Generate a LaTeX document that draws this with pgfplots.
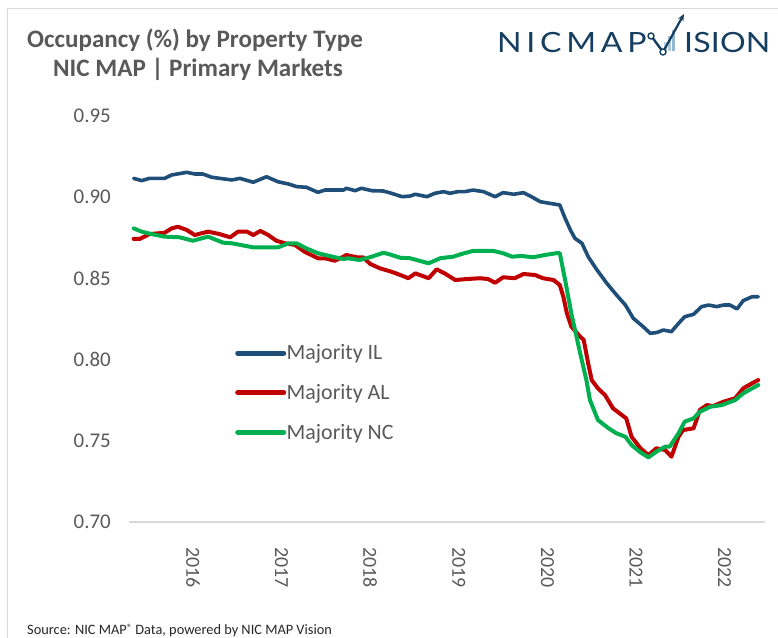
\documentclass[border=0pt]{standalone}
\usepackage{pgfplots}
\pgfplotsset{compat=1.18}
\usepackage{fontspec}
\setmainfont{Carlito}
\newfontfamily\logofont{Lato}
\usetikzlibrary{arrows.meta}
\definecolor{ilblue}{RGB}{31,78,121}
\definecolor{alred}{RGB}{192,0,0}
\definecolor{ncgreen}{RGB}{0,176,80}
\definecolor{txtgray}{RGB}{89,89,89}
\definecolor{navy}{RGB}{22,62,96}
\definecolor{bordergray}{RGB}{217,217,217}
\definecolor{barblue}{RGB}{150,185,210}
\begin{document}
\begin{tikzpicture}[x=1bp,y=1bp]
\useasboundingbox (0,0) rectangle (778,638);
\begin{scope}[shift={(0,638)}, y=-1bp]
\draw[bordergray, line width=1bp] (7,640) -- (7,9) -- (780,9);
% titles
\node[anchor=base, inner sep=0pt, font=\bfseries\fontsize{25.2}{29}\selectfont, text=txtgray] at (195,48) {Occupancy (\%) by Property Type};
\node[anchor=base, inner sep=0pt, font=\bfseries\fontsize{25.2}{29}\selectfont, text=txtgray] at (198,77) {NIC MAP | Primary Markets};
% logo
\node[anchor=base west, inner sep=0pt, text=navy, font=\logofont\fontsize{28}{28}\selectfont] at (497,53) {\scalebox{1.15}[1]{\makebox[130bp][l]{N\hfill I\hfill C\hfill M\hfill A\hfill P}}};
\node[anchor=base west, inner sep=0pt, text=navy, font=\logofont\fontsize{28}{28}\selectfont] at (684,53) {\scalebox{1.15}[1]{\makebox[75bp][l]{I\hfill S\hfill I\hfill O\hfill N}}};
\fill[barblue!60] (664,51) rectangle (666.5,42);
\fill[barblue!75] (668,51) rectangle (670.5,36);
\fill[barblue] (672,51) rectangle (674.5,30);
\draw[navy, line width=2.4bp] (652,37) -- (663,52);
\draw[navy, line width=2.2bp, -{Stealth[length=7bp,width=6bp]}] (663,52) -- (684,14);
\draw[navy, line width=1.4bp, fill=white] (651,36) circle (3bp);
\draw[navy, line width=1.4bp, fill=white] (663,52) circle (3bp);
% source
\node[anchor=base west, inner sep=0pt, font=\fontsize{14.4}{16}\selectfont, text=black!85] at (27,635) {Source: NIC MAP\raisebox{3.5bp}{\fontsize{10.5}{10}\selectfont ®} Data, powered by NIC MAP Vision};
\end{scope}
\begin{axis}[
  at={(129bp,116bp)}, anchor=south west,
  scale only axis, width=636bp, height=406bp,
  xmin=2015.278, xmax=2022.456, ymin=0.70, ymax=0.95,
  axis x line*=bottom, axis y line*=left,
  x axis line style={draw=bordergray, line width=1.3bp, -},
  y axis line style={draw=none, -},
  major tick length=0pt, tick style={draw=none},
  xtick={2016,2017,2018,2019,2020,2021,2022},
  xticklabels={2016,2017,2018,2019,2020,2021,2022},
  ytick={0.70,0.75,0.80,0.85,0.90,0.95},
  yticklabels={0.70,0.75,0.80,0.85,0.90,0.95},
  xticklabel style={rotate=-90, anchor=west, inner sep=0pt, font=\fontsize{20}{20}\selectfont, text=txtgray},
  xticklabel shift=25bp,
  yticklabel style={anchor=east, inner sep=0pt, font=\fontsize{21}{21}\selectfont, text=txtgray},
  yticklabel shift=18bp,
  clip=false,
  legend cell align=left,
  legend style={at={(0.162,0.443)}, anchor=north west, draw=none, fill=none,
    font=\fontsize{22}{22}\selectfont, text=txtgray, row sep=22bp, column sep=0bp,
    nodes={inner sep=0.5bp}},
  legend image code/.code={\draw[#1, line width=5bp, line cap=round] (0bp,0bp) -- (46bp,0bp);},
  every axis plot/.append style={line join=round, line cap=round},
]
\addplot[ilblue, line width=3.6bp] table {
2015.33 0.9116
2015.42 0.9102
2015.51 0.9116
2015.68 0.9116
2015.76 0.9137
2015.93 0.9153
2016.02 0.9143
2016.11 0.9143
2016.21 0.9123
2016.30 0.9116
2016.44 0.9106
2016.53 0.9116
2016.68 0.9092
2016.83 0.9126
2016.96 0.9095
2017.08 0.9081
2017.17 0.9065
2017.28 0.9061
2017.41 0.9030
2017.49 0.9044
2017.70 0.9044
2017.73 0.9055
2017.83 0.9040
2017.90 0.9055
2018.02 0.9040
2018.15 0.9038
2018.24 0.9024
2018.36 0.9003
2018.45 0.9007
2018.51 0.9018
2018.64 0.9003
2018.73 0.9024
2018.83 0.9034
2018.90 0.9024
2018.99 0.9034
2019.07 0.9034
2019.16 0.9044
2019.28 0.9034
2019.41 0.9003
2019.50 0.9028
2019.62 0.9018
2019.73 0.9028
2019.82 0.9003
2019.92 0.8972
2020.03 0.8962
2020.14 0.8952
2020.20 0.8870
2020.26 0.8798
2020.31 0.8747
2020.39 0.8716
2020.46 0.8634
2020.56 0.8552
2020.67 0.8470
2020.78 0.8398
2020.88 0.8336
2020.97 0.8254
2021.08 0.8203
2021.16 0.8162
2021.23 0.8166
2021.31 0.8182
2021.40 0.8172
2021.48 0.8223
2021.55 0.8264
2021.65 0.8279
2021.74 0.8326
2021.82 0.8336
2021.91 0.8326
2021.99 0.8336
2022.06 0.8336
2022.14 0.8312
2022.21 0.8363
2022.31 0.8387
2022.38 0.8387
};
\addlegendentry{Majority IL}
\addplot[alred, line width=4bp] table {
2015.33 0.8743
2015.40 0.8743
2015.51 0.8773
2015.68 0.8781
2015.76 0.8808
2015.83 0.8818
2015.93 0.8798
2016.02 0.8767
2016.17 0.8788
2016.30 0.8773
2016.42 0.8753
2016.51 0.8788
2016.61 0.8788
2016.68 0.8767
2016.76 0.8792
2016.85 0.8767
2016.94 0.8732
2017.04 0.8716
2017.15 0.8706
2017.26 0.8664
2017.41 0.8624
2017.49 0.8624
2017.60 0.8609
2017.70 0.8634
2017.73 0.8644
2017.85 0.8630
2017.92 0.8630
2018.00 0.8589
2018.11 0.8562
2018.24 0.8541
2018.34 0.8521
2018.43 0.8501
2018.51 0.8531
2018.66 0.8501
2018.75 0.8556
2018.84 0.8531
2018.96 0.8490
2019.09 0.8496
2019.24 0.8501
2019.33 0.8496
2019.41 0.8473
2019.50 0.8507
2019.63 0.8501
2019.73 0.8527
2019.86 0.8521
2019.95 0.8501
2020.07 0.8490
2020.14 0.8459
2020.18 0.8387
2020.22 0.8285
2020.27 0.8203
2020.37 0.8141
2020.41 0.8121
2020.46 0.7977
2020.50 0.7874
2020.57 0.7823
2020.65 0.7782
2020.74 0.7700
2020.89 0.7638
2020.95 0.7525
2021.05 0.7454
2021.14 0.7412
2021.23 0.7454
2021.33 0.7443
2021.40 0.7402
2021.48 0.7525
2021.53 0.7566
2021.65 0.7577
2021.72 0.7690
2021.80 0.7720
2021.87 0.7714
2021.99 0.7741
2022.12 0.7762
2022.21 0.7823
2022.31 0.7854
2022.38 0.7874
};
\addlegendentry{Majority AL}
\addplot[ncgreen, line width=4bp] table {
2015.33 0.8808
2015.42 0.8788
2015.53 0.8773
2015.68 0.8757
2015.85 0.8753
2016.00 0.8732
2016.17 0.8757
2016.34 0.8720
2016.44 0.8716
2016.68 0.8691
2016.81 0.8691
2016.96 0.8691
2017.08 0.8716
2017.17 0.8716
2017.28 0.8685
2017.41 0.8655
2017.57 0.8634
2017.70 0.8619
2017.75 0.8624
2017.88 0.8613
2018.02 0.8634
2018.15 0.8658
2018.22 0.8648
2018.34 0.8627
2018.45 0.8624
2018.66 0.8593
2018.79 0.8624
2018.94 0.8634
2019.03 0.8650
2019.16 0.8669
2019.39 0.8669
2019.50 0.8655
2019.60 0.8634
2019.71 0.8638
2019.84 0.8630
2019.97 0.8644
2020.10 0.8655
2020.14 0.8655
2020.20 0.8490
2020.27 0.8285
2020.37 0.8039
2020.44 0.7874
2020.48 0.7751
2020.57 0.7628
2020.69 0.7577
2020.78 0.7546
2020.88 0.7525
2020.95 0.7474
2021.05 0.7429
2021.14 0.7398
2021.23 0.7433
2021.33 0.7464
2021.38 0.7464
2021.48 0.7546
2021.55 0.7618
2021.65 0.7638
2021.72 0.7679
2021.84 0.7710
2021.97 0.7720
2022.12 0.7751
2022.21 0.7792
2022.31 0.7823
2022.38 0.7843
};
\addlegendentry{Majority NC}
\end{axis}
\end{tikzpicture}
\end{document}
